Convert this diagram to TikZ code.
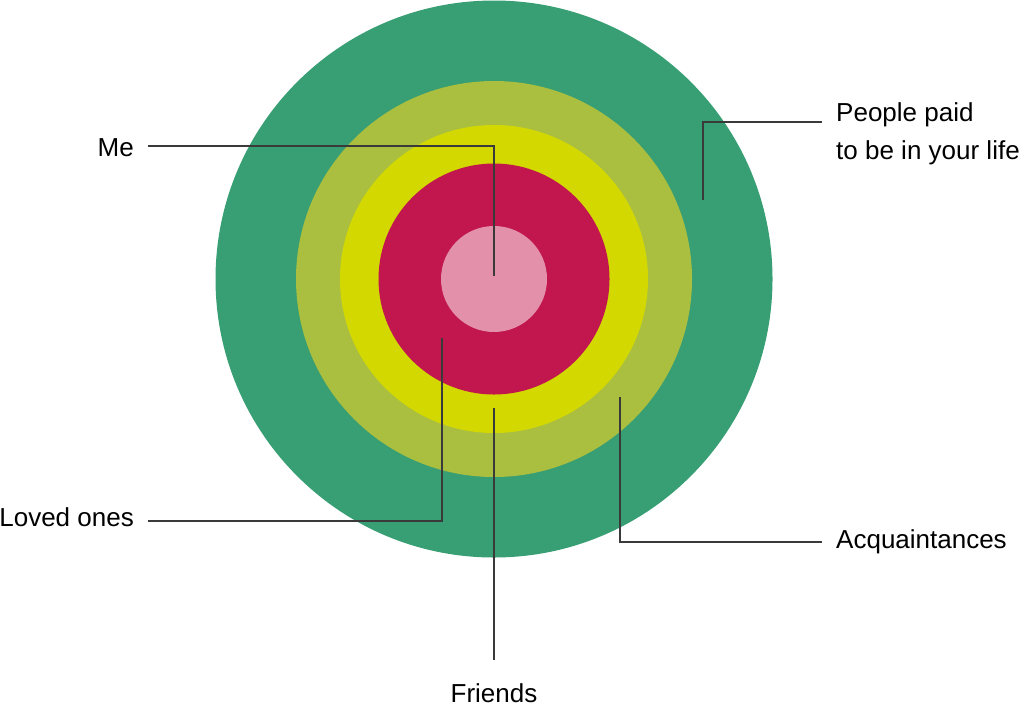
\documentclass[tikz,border=0pt]{standalone}
\usepackage{fontspec}
\setmainfont{Liberation Sans}

\definecolor{ringgreen}{HTML}{389E73}
\definecolor{ringolive}{HTML}{AABF40}
\definecolor{ringyellow}{HTML}{D2D800}
\definecolor{ringred}{HTML}{C1164E}
\definecolor{ringpink}{HTML}{E390AB}
\definecolor{leadgray}{HTML}{3A3A3A}

\begin{document}
\begin{tikzpicture}[x=1pt,y=-1pt,
  ring/.style={circle,inner sep=0pt,minimum size=#1},
  lead/.style={draw=leadgray,line width=1.1pt},
  lbl/.style={font=\fontsize{26}{38}\selectfont,inner sep=0pt}]

\useasboundingbox (0,0) rectangle (1024,705);

% the rings, outside in
\coordinate (c) at (494,279);
\node[ring=557pt,fill=ringgreen] (paid) at (c) {};
\node[ring=396pt,fill=ringolive] (acq) at (c) {};
\node[ring=308pt,fill=ringyellow] (friends) at (c) {};
\node[ring=231pt,fill=ringred] (loved) at (c) {};
\node[ring=106pt,fill=ringpink] (me) at (c) {};

% labels
\node[lbl,anchor=base east] (tme) at (134,156) {Me};
\node[lbl,anchor=base east] (tloved) at (134,526) {Loved ones};
\node[lbl,anchor=base west,align=left] (tpaid) at (836,159) {People paid\\to be in your life};
\node[lbl,anchor=base west] (tacq) at (836,548) {Acquaintances};
\node[lbl,anchor=base] (tfriends) at (494,702) {Friends};

% ends of the leads
\coordinate (mepin) at (494,276);
\coordinate (mearm) at (148,146);
\coordinate (lovedpin) at (442,338);
\coordinate (lovedarm) at (148,521);
\coordinate (friendspin) at (494,408);
\coordinate (friendsarm) at (494,660);
\coordinate (acqpin) at (620,397);
\coordinate (acqarm) at (822,542);
\coordinate (paidpin) at (703,200);
\coordinate (paidarm) at (822,122);

\draw[lead] (mepin) |- (mearm);
\draw[lead] (lovedpin) |- (lovedarm);
\draw[lead] (friendspin) -- (friendsarm);
\draw[lead] (acqpin) |- (acqarm);
\draw[lead] (paidpin) |- (paidarm);

\end{tikzpicture}
\end{document}
